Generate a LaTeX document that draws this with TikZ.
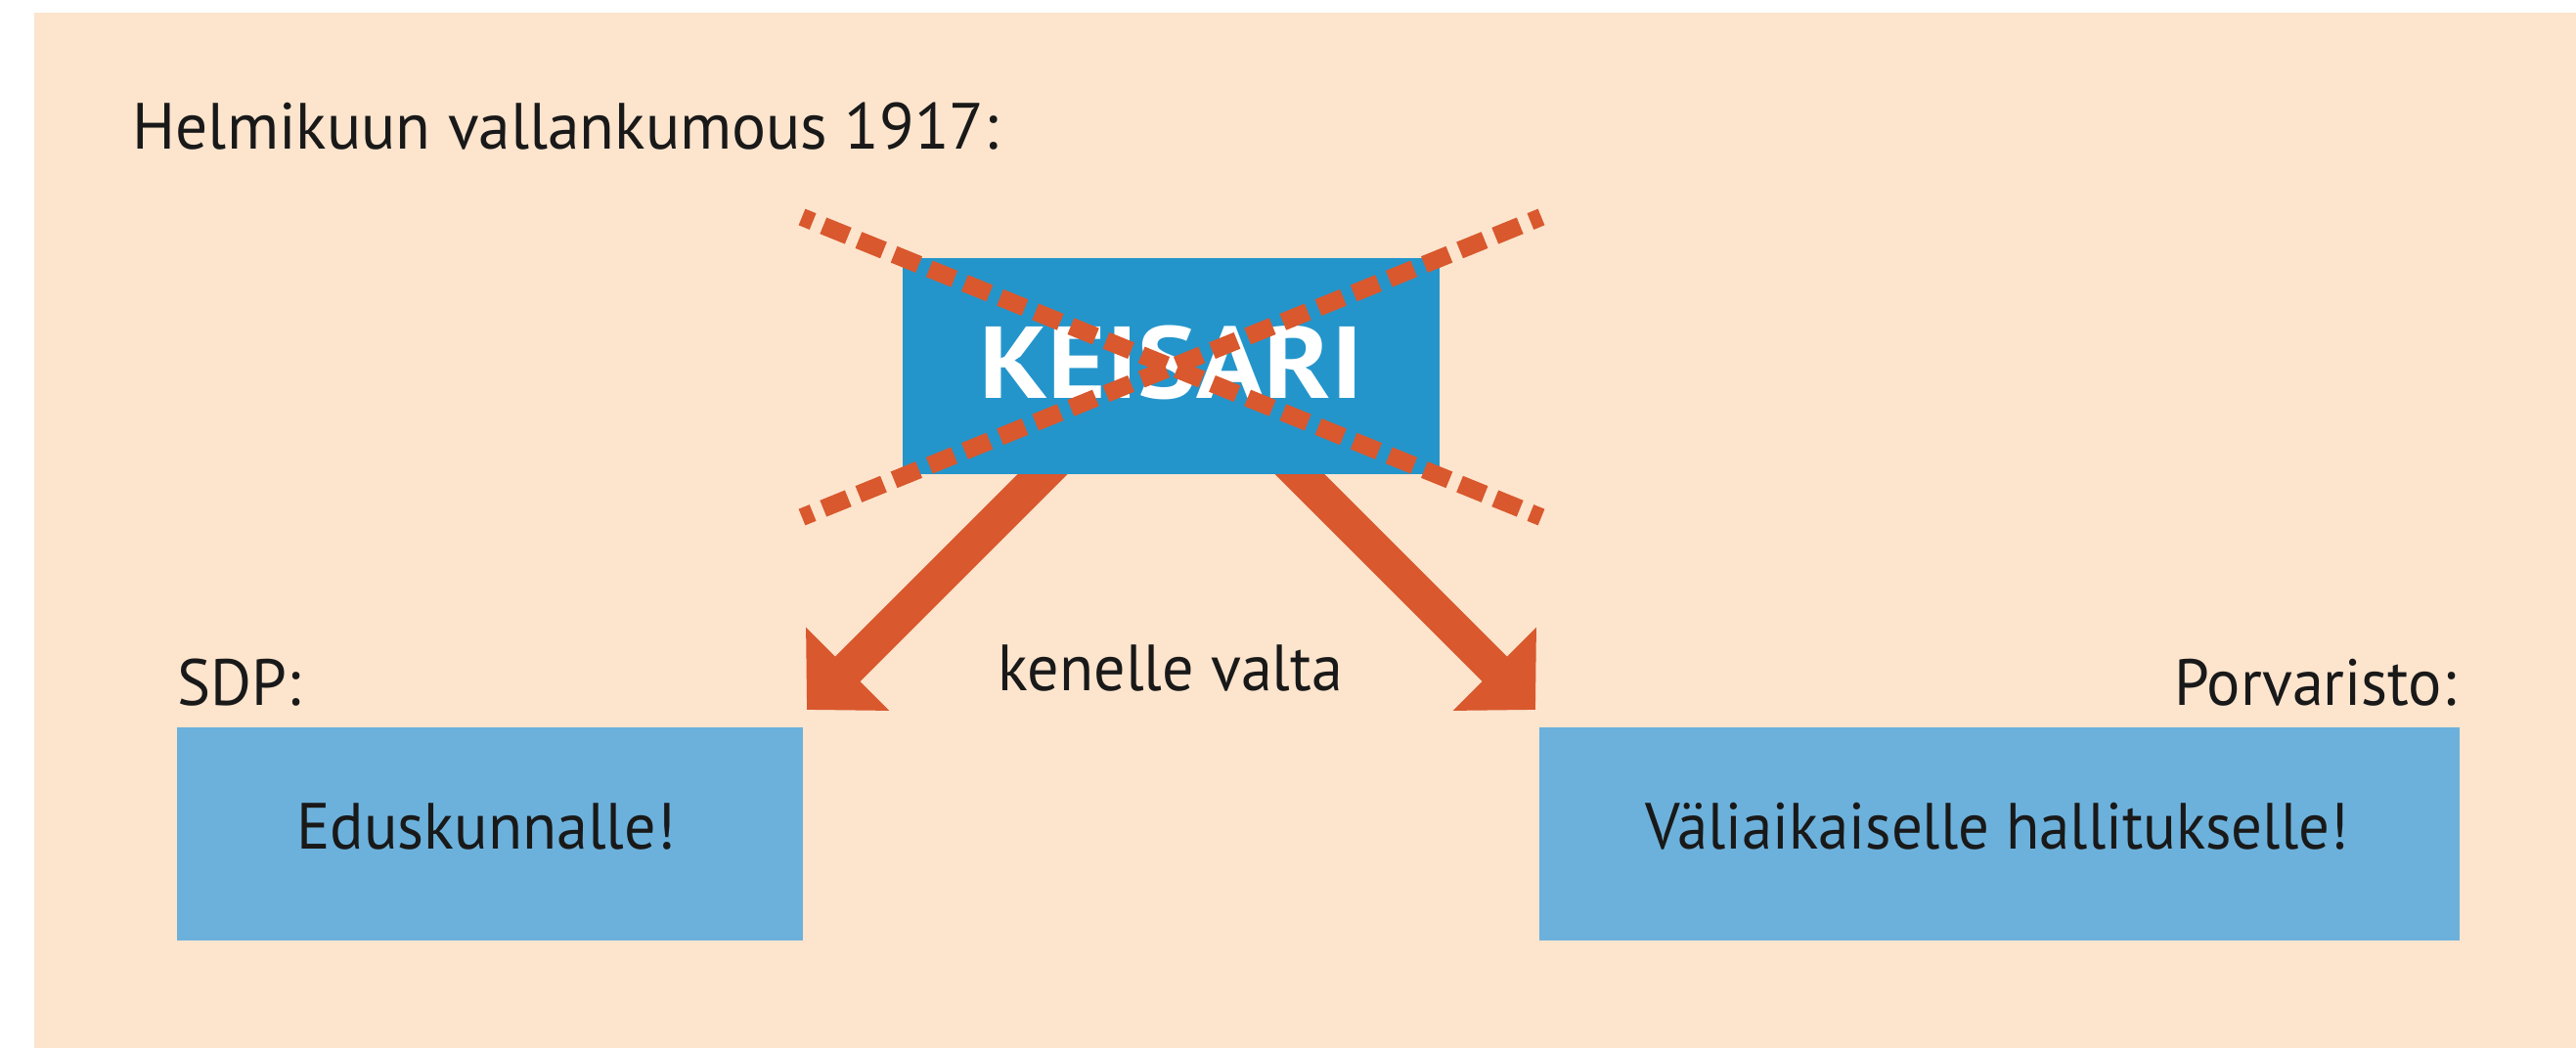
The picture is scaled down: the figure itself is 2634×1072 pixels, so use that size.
\documentclass[tikz,border=0pt]{standalone}
\usepackage{fontspec}
\setmainfont{PT Sans}[FakeStretch=0.96]
\newfontfamily\titlefont{PT Sans}[FakeStretch=0.98]
\newfontfamily\narrowfont{PT Sans}[FakeStretch=0.94]
\newfontfamily\keisarifont{PT Sans}[FakeStretch=1.09]
\usetikzlibrary{arrows.meta}
\definecolor{bgbeige}{HTML}{FCE4CD}
\definecolor{keisariblue}{HTML}{2495CB}
\definecolor{boxblue}{HTML}{6CB1DB}
\definecolor{redorange}{HTML}{D9582D}
\tikzset{
  txt/.style={inner sep=0pt, text=black!90, font=\fontsize{19pt}{22pt}\selectfont},
  lbox/.style={fill=boxblue, inner sep=0pt, minimum width=6.40cm, minimum height=2.18cm},
  rbox/.style={fill=boxblue, inner sep=0pt, minimum width=9.41cm, minimum height=2.18cm},
  kbox/.style={fill=keisariblue, inner sep=0pt, minimum width=5.49cm, minimum height=2.21cm},
  bigarrow/.style={draw=redorange, line width=0.36cm, line cap=butt,
    -{Triangle[length=0.59cm, width=1.17cm]}},
  crossline/.style={draw=redorange, line width=0.18cm, line cap=butt,
    dash pattern=on 0.275cm off 0.115cm, dash phase=0.155cm}
}
\begin{document}
\begin{tikzpicture}[x=0.01cm,y=-0.01cm]
\useasboundingbox (0,0) rectangle (2634,1072);
\fill[white] (0,0) rectangle (2634,1072);
\fill[bgbeige] (35,13) rectangle (2634,1072);

% title
\node[txt, anchor=base west, font=\titlefont\fontsize{19pt}{22pt}\selectfont] (title) at (135,152) {Helmikuun vallankumous 1917:};

% boxes
\node[lbox] (edus) at (501,853) {};
\node[rbox] (vali) at (2044.5,853) {};
\node[txt, anchor=base] (edustxt) at (497,868) {Eduskunnalle!};
\node[txt, anchor=base, font=\narrowfont\fontsize{19pt}{22pt}\selectfont] (valitxt) at (2042,868) {Väliaikaiselle hallitukselle!};
\node[txt, anchor=base west] (sdp) at (181,721) {SDP:};
\node[txt, anchor=base east] (porv) at (2512,721) {Porvaristo:};

% arrows (behind keisari box)
\coordinate (ls) at (1086,465);
\coordinate (le) at (825,726);
\coordinate (rs) at (1309,465);
\coordinate (re) at (1570,726);
\draw[bigarrow] (ls) -- (le);
\draw[bigarrow] (rs) -- (re);

% keisari
\node[kbox] (keisari) at (1197.5,374.5) {};
\node[inner sep=0pt, text=white, anchor=base, font=\keisarifont\fontsize{29.7pt}{34pt}\selectfont\bfseries] (ktxt) at (1197.5,407) {KEISARI};

\node[txt, anchor=base] (kenelle) at (1197,706) {kenelle valta};

% cross
\coordinate (c1) at (820,222);
\coordinate (c2) at (1576,529);
\coordinate (c3) at (820,529);
\coordinate (c4) at (1576,222);
\draw[crossline] (c1) -- (c2);
\draw[crossline] (c3) -- (c4);
\end{tikzpicture}
\end{document}
